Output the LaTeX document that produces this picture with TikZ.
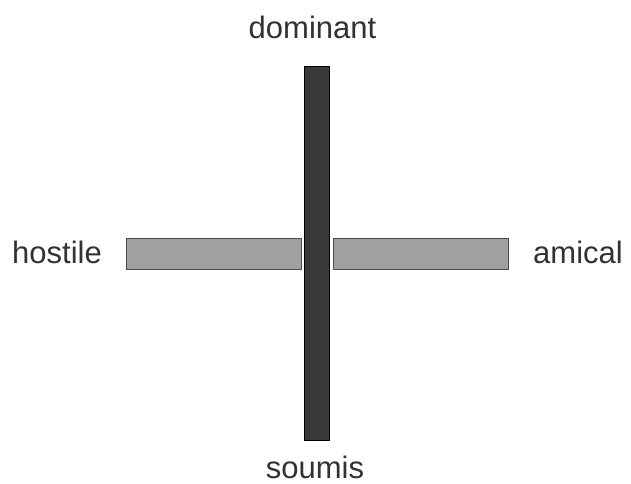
\documentclass[tikz,border=0pt]{standalone}
\usepackage{fontspec}
\setmainfont{Liberation Sans}
\usetikzlibrary{positioning}
\definecolor{barstem}{RGB}{58,58,58}
\definecolor{barbeam}{RGB}{160,160,160}
\definecolor{labelgray}{RGB}{50,50,50}

\begin{document}
\begin{tikzpicture}[x=1pt, y=-1pt,
    stem/.style={rectangle, draw=black, line width=1.2pt, fill=barstem,
                 minimum width=25pt, minimum height=374pt, inner sep=0pt},
    beam/.style={rectangle, draw=black!70, line width=1pt, fill=barbeam,
                 minimum height=31pt, inner sep=0pt},
    pole/.style={font=\fontsize{31}{36}\selectfont, text=labelgray,
                 inner sep=0pt},
]
\useasboundingbox (0,0) rectangle (631,483);

%---------------------------------------------------------------
% horizontal axis, split round the vertical one
%---------------------------------------------------------------
\node[beam, minimum width=175pt] (beamL) at (213.5, 254) {};
\node[beam, minimum width=175pt] (beamR) at (421, 254) {};

%---------------------------------------------------------------
% vertical axis
%---------------------------------------------------------------
\node[stem] (stem) at (317, 253.5) {};

%---------------------------------------------------------------
% labels at the four ends
%---------------------------------------------------------------
\node[pole, anchor=base] (dom) at (312.5, 38) {dominant};
\node[pole, anchor=base] (sou) at (315, 478) {soumis};
\node[pole, anchor=base east] (hos) at (102, 263) {hostile};
\node[pole, anchor=base west] (ami) at (533, 263) {amical};

\end{tikzpicture}
\end{document}
